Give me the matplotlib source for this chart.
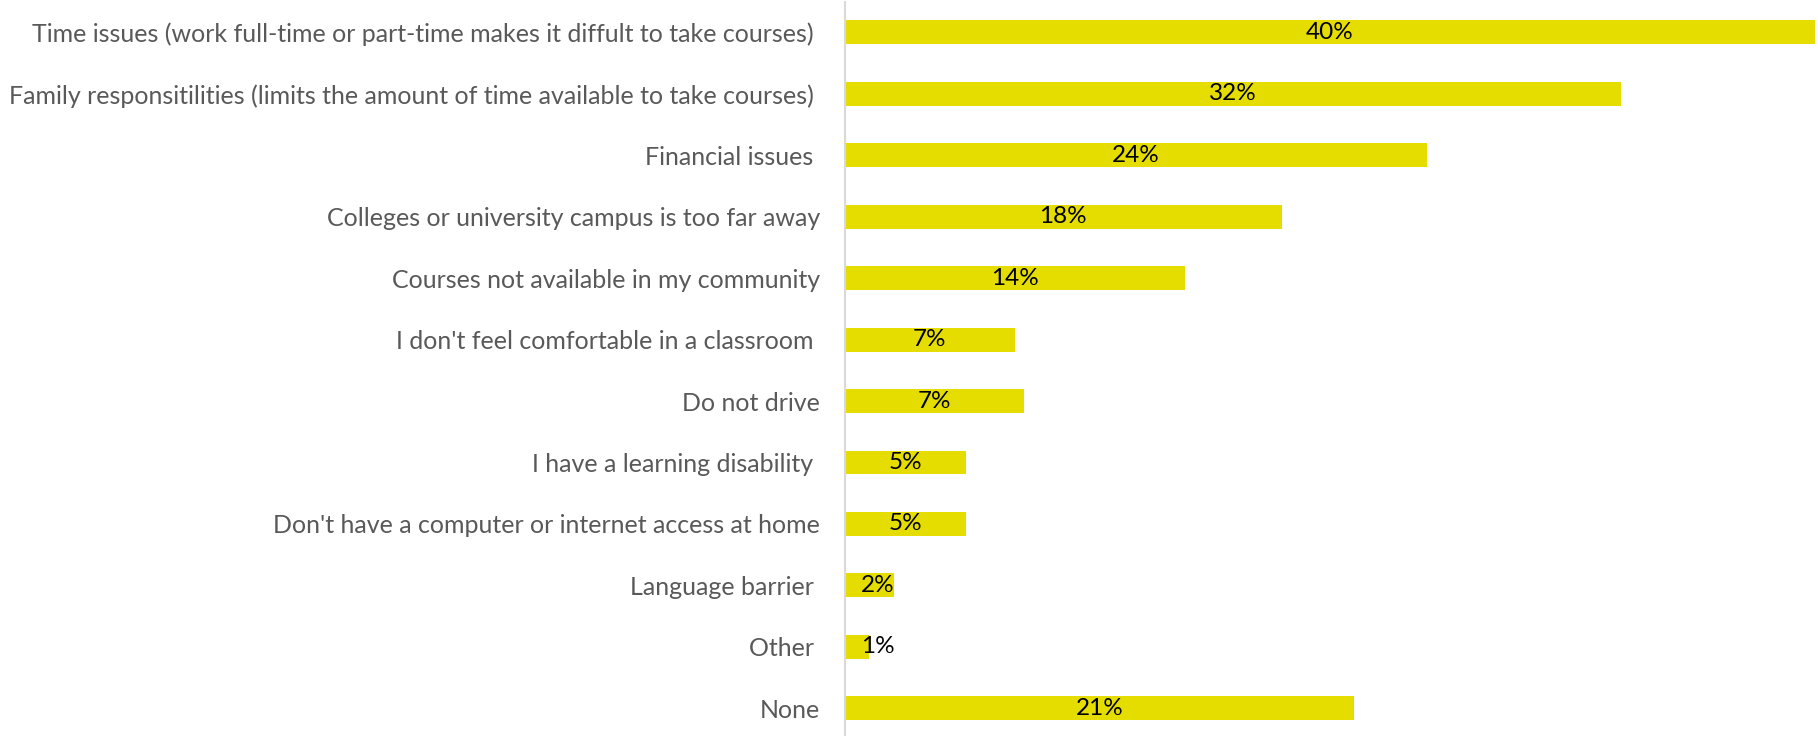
import matplotlib
matplotlib.use("Agg")
import matplotlib.pyplot as plt

categories = [
    "Time issues (work full-time or part-time makes it diffult to take courses) ",
    "Family responsitilities (limits the amount of time available to take courses) ",
    "Financial issues ",
    "Colleges or university campus is too far away",
    "Courses not available in my community",
    "I don't feel comfortable in a classroom ",
    "Do not drive",
    "I have a learning disability ",
    "Don't have a computer or internet access at home",
    "Language barrier ",
    "Other ",
    "None",
]
values = [40, 32, 24, 18, 14, 7.0, 7.4, 5, 5, 2, 1, 21]

plt.rcParams['font.family'] = ['Lato', 'DejaVu Sans']

fig = plt.figure(figsize=(18.18, 7.36), dpi=100)
ax = fig.add_axes([845/1818, -3/736, (1815-845)/1818, 737.3/736])

y = list(range(len(categories)))
ax.barh(y, values, height=0.39, color='#E5DD00')
ax.set_xlim(0, 40)
ax.set_ylim(len(categories) - 0.5, -0.5)

for yi, v in zip(y, values):
    ax.text(max(v / 2, 1.35), yi, f"{round(v)}%", ha='center', va='center',
            fontsize=17.5, color='black')

ax.set_yticks(y)
ax.set_yticklabels(categories, fontsize=18, color='#595959')
ax.tick_params(axis='y', length=0, pad=18)
ax.set_xticks([])
for s in ['top', 'right', 'bottom']:
    ax.spines[s].set_visible(False)
ax.spines['left'].set_color('#D9D9D9')
ax.spines['left'].set_linewidth(1.5)

fig.savefig('out.png', dpi=100, facecolor='white')
